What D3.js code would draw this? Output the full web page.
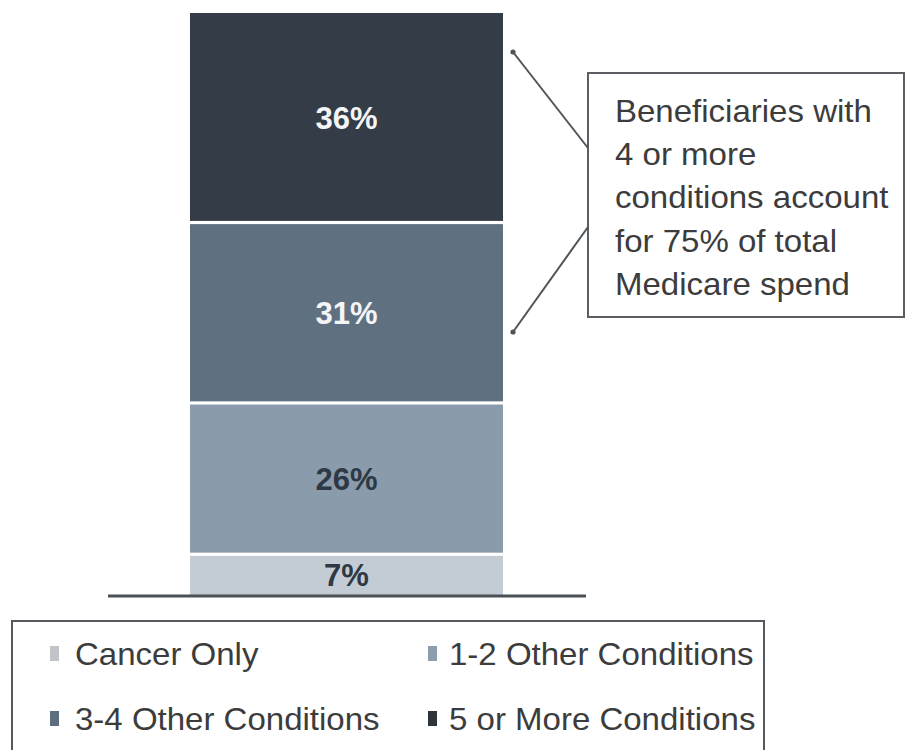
<!DOCTYPE html>
<html>
<head>
<meta charset="utf-8">
<script src="https://cdn.jsdelivr.net/npm/d3@7"></script>
<style>
  html, body { margin: 0; padding: 0; background: #ffffff; }
  svg { display: block; }
  text { font-family: "Liberation Sans", Arial, Helvetica, sans-serif; }
</style>
</head>
<body>
<svg id="chart" width="907" height="750"></svg>
<script>
// Share of spend by number of chronic conditions (stacked bottom to top)
const categories = ["Cancer Only", "1-2 Other Conditions", "3-4 Other Conditions", "5 or More Conditions"];
const shares = [7, 26, 31, 36];
const segmentColors = ["#c3ccd4", "#8a9bab", "#5f7080", "#333c47"];
const labelColors = ["#2e3945", "#2e3945", "#f4f5f6", "#f4f5f6"];
const legendColors = ["#c1c5c9", "#8e9dab", "#5d6e7e", "#2d343c"];
const calloutLines = ["Beneficiaries with", "4 or more", "conditions account", "for 75% of total", "Medicare spend"];

const svg = d3.select("#chart");
const textStretch = 1.065;

const x = d3.scaleBand().domain(["All"]).range([190, 503]).padding(0);
const y = d3.scaleLinear().domain([0, 100]).range([595, 13]);

// stack the single column
const row = { group: "All" };
categories.forEach((c, i) => row[c] = shares[i]);
const stacked = d3.stack().keys(categories)([row]);

const gap = 1.6;
const bar = svg.append("g");
stacked.forEach((layer, i) => {
  const d = layer[0];
  const top = y(d[1]) + (i === categories.length - 1 ? 0 : gap);
  const bottom = y(d[0]) - (i === 0 ? 0 : gap);
  bar.append("rect")
    .attr("x", x("All"))
    .attr("y", top)
    .attr("width", x.bandwidth())
    .attr("height", bottom - top)
    .attr("fill", segmentColors[i]);
  bar.append("text")
    .attr("x", x("All") + x.bandwidth() / 2)
    .attr("y", (y(d[0]) + y(d[1])) / 2)
    .attr("dy", "0.36em")
    .attr("text-anchor", "middle")
    .attr("font-size", 31)
    .attr("font-weight", "bold")
    .attr("fill", labelColors[i])
    .text(shares[i] + "%");
});

// baseline
svg.append("line")
  .attr("x1", 108).attr("x2", 586)
  .attr("y1", y(0) + 1).attr("y2", y(0) + 1)
  .attr("stroke", "#4b5057").attr("stroke-width", 3);

// callout box with leader lines
const box = { x: 588, y: 73, w: 316, h: 244 };
svg.append("rect")
  .attr("x", box.x).attr("y", box.y)
  .attr("width", box.w).attr("height", box.h)
  .attr("fill", "#ffffff")
  .attr("stroke", "#5a5d61").attr("stroke-width", 2);

const leaders = [
  { from: [513, 52], to: [box.x, 148] },
  { from: [513, 332], to: [box.x, 227] }
];
leaders.forEach(l => {
  svg.append("line")
    .attr("x1", l.from[0]).attr("y1", l.from[1])
    .attr("x2", l.to[0]).attr("y2", l.to[1])
    .attr("stroke", "#4f5459").attr("stroke-width", 2);
  svg.append("circle")
    .attr("cx", l.from[0]).attr("cy", l.from[1])
    .attr("r", 2.6).attr("fill", "#4f5459");
});

svg.append("g").selectAll("text")
  .data(calloutLines)
  .join("text")
  .attr("transform", (d, i) => `translate(615,${122 + i * 43.2}) scale(${textStretch},1)`)
  .attr("font-size", 31)
  .attr("fill", "#3c3c3c")
  .text(d => d);

// legend
svg.append("rect")
  .attr("x", 12).attr("y", 621)
  .attr("width", 752).attr("height", 150)
  .attr("fill", "none")
  .attr("stroke", "#55585c").attr("stroke-width", 2);

const legendPos = [[50, 665], [428, 665], [50, 730], [428, 730]];
const textOffset = [25, 21, 25, 21];
const legend = svg.append("g").selectAll("g")
  .data(categories)
  .join("g")
  .attr("transform", (d, i) => `translate(${legendPos[i][0]},${legendPos[i][1]})`);
legend.append("rect")
  .attr("x", 0).attr("y", -19)
  .attr("width", 9).attr("height", 15)
  .attr("fill", (d, i) => legendColors[i]);
legend.append("text")
  .attr("transform", (d, i) => `translate(${textOffset[i]},0) scale(${textStretch},1)`)
  .attr("font-size", 31)
  .attr("fill", "#3c3c3c")
  .text(d => d);
</script>
</body>
</html>
